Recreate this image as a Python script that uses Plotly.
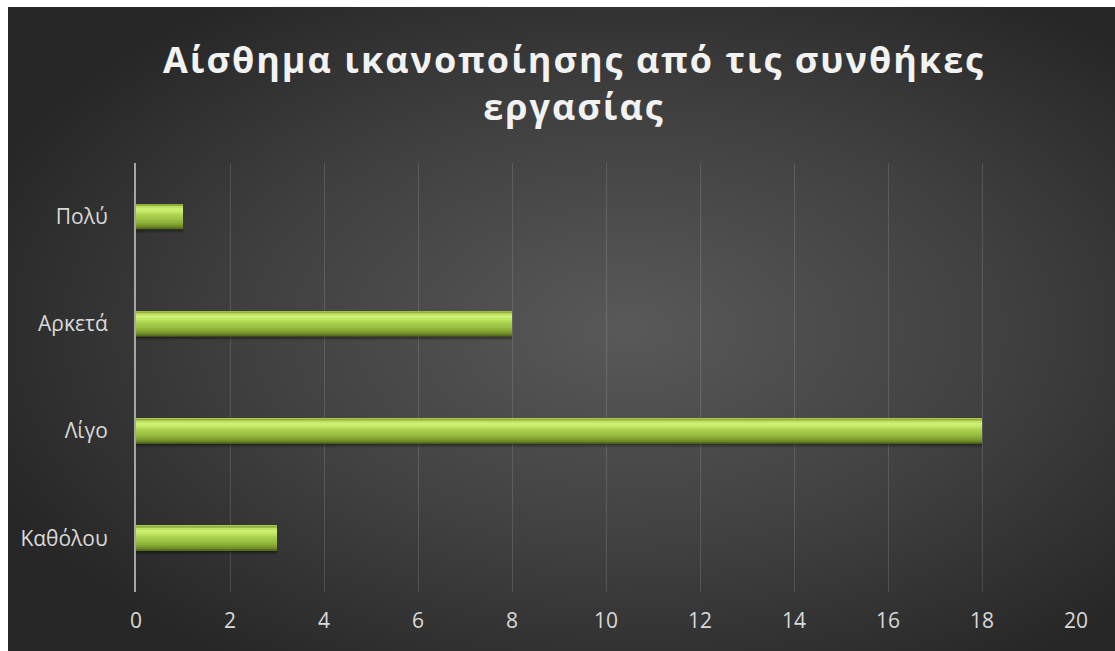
import base64
import plotly.graph_objects as go

# Data
categories = ["Καθόλου", "Λίγο", "Αρκετά", "Πολύ"]
values = [3, 18, 8, 1]
x_ticks = [0, 2, 4, 6, 8, 10, 12, 14, 16, 18, 20]
title_text = "Αίσθημα ικανοποίησης από τις συνθήκες<br>εργασίας"

W, H = 1115, 651
# plot area in pixels
L, R, T, B = 136, 1076, 163, 592

# dark radial backdrop for the chart card
svg = (
    '<svg xmlns="http://www.w3.org/2000/svg" width="1107" height="644" '
    'preserveAspectRatio="none" viewBox="0 0 1107 644">'
    '<defs><radialGradient id="g" cx="0.56" cy="0.5" r="0.62">'
    '<stop offset="0" stop-color="#595959"/>'
    '<stop offset="0.55" stop-color="#404040"/>'
    '<stop offset="1" stop-color="#272727"/>'
    '</radialGradient></defs>'
    '<rect width="1107" height="644" fill="url(#g)"/></svg>'
)
bg_src = "data:image/svg+xml;base64," + base64.b64encode(svg.encode()).decode()

pw, ph = R - L, B - T
card_x0, card_y0, card_x1, card_y1 = 8, 7, 1115, 651

fig = go.Figure()

# bar geometry (category units)
bar_w = 0.235
# soft drop shadow under each bar
for k, a in enumerate([0.18, 0.14, 0.10]):
    fig.add_trace(go.Bar(
        x=values, y=categories, orientation="h",
        width=bar_w, offset=-bar_w / 2 - 0.012 * (k + 1),
        marker=dict(color=f"rgba(0,0,0,{a})", line=dict(width=0)),
        hoverinfo="skip", showlegend=False,
    ))

# bevelled green bars: nested layers, each one covering from its own
# lower edge up to the top of the bar (bottom -> top colours)
strip_colors = ["#56701e", "#748f2a", "#84a332", "#90b43a", "#9ac042",
                "#a2c847", "#aad04e", "#b6dc5a", "#c4ea68", "#cdf273",
                "#bfe265", "#92ae3c"]
n = len(strip_colors)
step = bar_w / n
for i, c in enumerate(strip_colors):
    fig.add_trace(go.Bar(
        x=values, y=categories, orientation="h",
        width=bar_w - i * step, offset=-bar_w / 2 + i * step,
        marker=dict(color=c, line=dict(width=0)),
        hoverinfo="skip", showlegend=False,
    ))

tick_font = dict(family="Open Sans", size=21, color="#d9d9d9")

fig.update_layout(
    width=W, height=H,
    margin=dict(l=L, r=W - R, t=T, b=H - B, pad=0),
    paper_bgcolor="white",
    plot_bgcolor="rgba(0,0,0,0)",
    barmode="overlay",
    showlegend=False,
    title=dict(
        text=title_text,
        x=574 / W, xanchor="center",
        y=1 - 73 / H, yanchor="middle",
        font=dict(family="Open Sans", size=36, color="#f2f2f2", weight="bold"),
    ),
    images=[dict(
        source=bg_src, xref="paper", yref="paper",
        x=(card_x0 - L) / pw, y=(B - card_y0) / ph,
        sizex=(card_x1 - card_x0) / pw, sizey=(card_y1 - card_y0) / ph,
        xanchor="left", yanchor="top", sizing="stretch", layer="below",
    )],
    xaxis=dict(
        range=[0, 20], tickvals=x_ticks, ticktext=[str(v) for v in x_ticks],
        showgrid=True, gridcolor="rgba(255,255,255,0.13)", gridwidth=1,
        zeroline=False, showline=False, ticks="",
        tickfont=tick_font, ticklabelstandoff=14, fixedrange=True,
    ),
    yaxis=dict(
        type="category", categoryorder="array", categoryarray=categories,
        range=[-0.5, 3.5],
        showgrid=False, zeroline=False,
        showline=True, linecolor="#a6a6a6", linewidth=2,
        ticks="", tickfont=tick_font, ticklabelstandoff=22, fixedrange=True,
    ),
)

post = """
var t = document.querySelector('.gtitle');
if (t) { t.style.letterSpacing = '2px'; }
"""
fig.write_html("out.html", post_script=post, config={"displayModeBar": False})
